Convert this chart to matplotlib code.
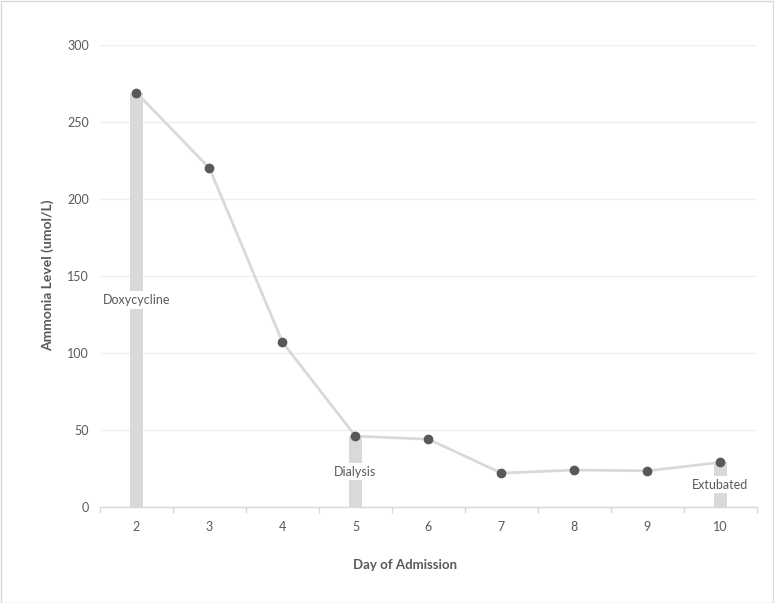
import matplotlib
matplotlib.use("Agg")
import matplotlib.pyplot as plt
from matplotlib.patches import Rectangle

plt.rcParams['font.family'] = ['Lato', 'DejaVu Sans']

days = ["2", "3", "4", "5", "6", "7", "8", "9", "10"]
ammonia = [269, 220, 107, 46, 44, 22, 24, 23.5, 29]
events = ["Doxycycline", "", "", "Dialysis", "", "", "", "", "Extubated"]

text_col = "#595959"
light = "#d9d9d9"

fig = plt.figure(figsize=(7.74, 6.03), dpi=100)
ax = fig.add_axes([100 / 774, 96 / 603, 657 / 774, 462 / 603])

x = list(range(len(days)))

# event bars drawn up to the measured value
for i, ev in enumerate(events):
    if ev:
        ax.bar(i, ammonia[i], width=0.19, color=light, zorder=2)
        ax.text(i, ammonia[i] / 2, ev, ha="center", va="center", fontsize=9,
                color=text_col, zorder=4,
                bbox=dict(facecolor="white", edgecolor="none", pad=2))

ax.plot(x, ammonia, color=light, lw=2, zorder=3)
ax.plot(x, ammonia, "o", color=text_col, ms=6, zorder=5)

ax.set_xlim(-0.5, len(days) - 0.5)
ax.set_ylim(0, 300)
ax.set_yticks(range(0, 301, 50))
ax.set_xticks(x)
ax.set_xticklabels(days)
ax.set_xticks([i - 0.5 for i in range(len(days) + 1)], minor=True)
ax.tick_params(axis="x", which="major", length=0, pad=10, labelsize=9, labelcolor=text_col)
ax.tick_params(axis="x", which="minor", length=4, color=light, width=1)
ax.tick_params(axis="y", length=0, pad=8, labelsize=9, labelcolor=text_col)

ax.grid(axis="y", color="#efefef", lw=1, zorder=0)
ax.set_axisbelow(True)
for s in ["top", "right", "left"]:
    ax.spines[s].set_visible(False)
ax.spines["bottom"].set_color(light)
ax.spines["bottom"].set_linewidth(1)

ax.set_xlabel("Day of Admission", fontsize=9.5, fontweight="bold", color=text_col, va="center")
ax.xaxis.set_label_coords((405 - 100) / 657, -(565 - 507) / 462)
ax.set_ylabel("Ammonia Level (umol/L)", fontsize=10, fontweight="bold", color=text_col, va="center")
ax.yaxis.set_label_coords((48 - 100) / 657, (507 - 275) / 462)

fig.patches.append(Rectangle((0.5 / 774, 0.5 / 603), 1 - 1.5 / 774, 1 - 1.5 / 603,
                             transform=fig.transFigure, fill=False,
                             edgecolor=light, lw=1))

fig.savefig("out.png", dpi=100)
